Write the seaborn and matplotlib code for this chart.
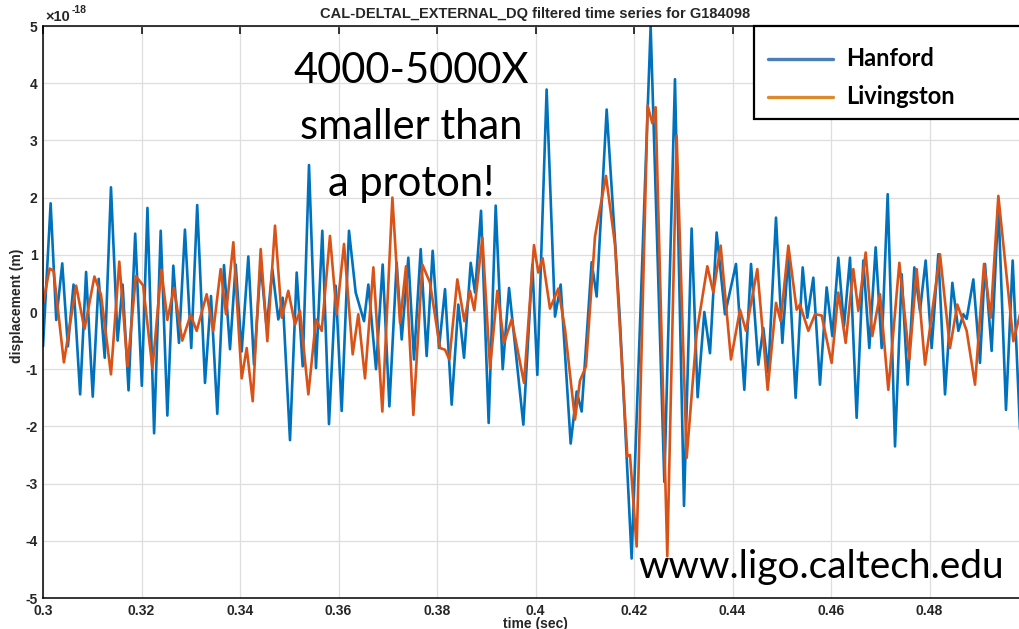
import matplotlib
matplotlib.use("Agg")
import matplotlib.pyplot as plt
import pandas as pd
import seaborn as sns
from matplotlib.lines import Line2D
from matplotlib.patches import Rectangle

# Filtered strain-channel displacement, in units of 1e-18 m (peaks and troughs of each trace)
hanford_time = [
    0.30000, 0.30155, 0.30269, 0.30391, 0.30505, 0.30620, 0.30754, 0.30875, 0.31010, 0.31131,
    0.31253, 0.31380, 0.31515, 0.31616, 0.31737, 0.31872, 0.32007, 0.32121, 0.32256, 0.32390,
    0.32525, 0.32646, 0.32761, 0.32882, 0.33010, 0.33131, 0.33289, 0.33411, 0.33539, 0.33675,
    0.33797, 0.33912, 0.34034, 0.34169, 0.34284, 0.34420, 0.34542, 0.34656, 0.34778, 0.34866,
    0.35015, 0.35151, 0.35273, 0.35401, 0.35543, 0.35671, 0.35807, 0.35943, 0.36065, 0.36213,
    0.36349, 0.36518, 0.36606, 0.36762, 0.36897, 0.37033, 0.37181, 0.37283, 0.37418, 0.37533,
    0.37669, 0.37790, 0.37912, 0.38041, 0.38163, 0.38298, 0.38433, 0.38549, 0.38684, 0.38772,
    0.38894, 0.39049, 0.39192, 0.39334, 0.39463, 0.39753, 0.39936, 0.40037, 0.40226, 0.40396,
    0.40511, 0.40714, 0.40836, 0.40937, 0.41140, 0.41242, 0.41445, 0.41614, 0.41715, 0.41952,
    0.42338, 0.42616, 0.42832, 0.43015, 0.43170, 0.43292, 0.43428, 0.43543, 0.43678, 0.43848,
    0.44071, 0.44240, 0.44376, 0.44524, 0.44626, 0.44727, 0.44883, 0.45012, 0.45134, 0.45282,
    0.45425, 0.45519, 0.45641, 0.45776, 0.45912, 0.46027, 0.46149, 0.46264, 0.46386, 0.46521,
    0.46656, 0.46778, 0.46907, 0.47029, 0.47151, 0.47300, 0.47435, 0.47557, 0.47692, 0.47807,
    0.47922, 0.48044, 0.48179, 0.48315, 0.48464, 0.48586, 0.48687, 0.48755, 0.48890, 0.49025,
    0.49127, 0.49262, 0.49398, 0.49553, 0.49689, 0.49838,
]
hanford_disp = [
    -0.60, 1.90, -0.14, 0.85, -0.60, 0.48, -1.44, 0.70, -1.48, 0.58,
    -0.80, 2.18, -0.50, 0.48, -1.37, 1.37, -1.29, 1.82, -2.12, 1.42,
    -1.81, 0.81, -0.54, 1.44, -0.63, 1.87, -1.24, 0.28, -1.78, 0.82,
    -0.65, 0.83, -0.69, 0.97, -0.92, 0.84, -0.28, 0.75, -0.13, 0.25,
    -2.24, 0.69, -0.95, 2.57, -0.98, 1.42, -1.96, 0.46, -1.73, 1.42,
    0.34, -0.16, 0.48, -1.00, 0.83, -1.65, 0.86, -0.48, 0.95, -0.83,
    1.10, -0.77, 1.07, -0.63, 0.40, -1.62, 0.13, -0.80, 0.86, 0.34,
    1.77, -1.94, 1.86, -1.00, 0.42, -1.97, 0.83, -1.10, 3.89, -0.08,
    0.48, -2.30, -1.39, -1.74, 0.87, 0.27, 3.54, 1.25, -0.15, -4.31,
    5.00, -2.97, 4.07, -3.39, 1.46, -1.49, 0.00, -0.72, 1.39, -0.04,
    0.84, -1.36, 0.84, -0.92, -0.28, -1.06, 1.65, -0.54, 1.00, -1.50,
    0.78, -0.10, 0.60, -1.27, 0.43, -0.42, 0.95, -0.25, 0.95, -1.85,
    0.90, -0.63, 1.13, -0.63, 2.06, -2.35, 0.66, -1.27, 0.78, 0.02,
    0.90, -0.63, 1.01, -1.44, 0.51, -0.33, -0.04, -0.12, 0.57, -0.89,
    0.84, -0.68, 1.88, -1.71, 0.90, -2.06,
]

livingston_time = [
    0.30000, 0.30135, 0.30215, 0.30424, 0.30673, 0.30842, 0.31044, 0.31178, 0.31380, 0.31549,
    0.31717, 0.31886, 0.32034, 0.32222, 0.32404, 0.32525, 0.32660, 0.32828, 0.32997, 0.33120,
    0.33323, 0.33458, 0.33607, 0.33716, 0.33865, 0.34034, 0.34136, 0.34258, 0.34420, 0.34555,
    0.34711, 0.34847, 0.34981, 0.35117, 0.35218, 0.35388, 0.35543, 0.35659, 0.35827, 0.35963,
    0.36112, 0.36288, 0.36402, 0.36538, 0.36708, 0.36890, 0.37094, 0.37249, 0.37371, 0.37520,
    0.37703, 0.37858, 0.38061, 0.38163, 0.38251, 0.38413, 0.38555, 0.38670, 0.38758, 0.38921,
    0.39077, 0.39225, 0.39361, 0.39516, 0.39767, 0.39969, 0.40057, 0.40145, 0.40294, 0.40463,
    0.40599, 0.40802, 0.40903, 0.41025, 0.41208, 0.41431, 0.41614, 0.41865, 0.41918, 0.42054,
    0.42277, 0.42372, 0.42439, 0.42676, 0.42866, 0.43069, 0.43272, 0.43489, 0.43611, 0.43760,
    0.43969, 0.44152, 0.44274, 0.44504, 0.44714, 0.44883, 0.44978, 0.45134, 0.45303, 0.45370,
    0.45540, 0.45675, 0.45810, 0.46013, 0.46149, 0.46298, 0.46453, 0.46555, 0.46704, 0.46839,
    0.46995, 0.47164, 0.47388, 0.47591, 0.47740, 0.47909, 0.48213, 0.48416, 0.48565, 0.48755,
    0.48924, 0.49107, 0.49242, 0.49398, 0.49702, 0.49838,
]
livingston_disp = [
    0.15, 0.76, 0.72, -0.88, 0.46, -0.30, 0.62, 0.30, -1.09, 0.88,
    -0.95, 0.63, 0.46, -0.99, 0.74, -0.14, 0.42, -0.50, -0.05, -0.33,
    0.31, -0.33, 0.75, -0.04, 1.22, -1.16, -0.63, -1.56, 1.10, -0.51,
    1.51, -0.10, 0.37, -0.22, 0.02, -1.44, -0.13, -0.33, 1.33, -0.04,
    1.19, -0.74, -0.04, -1.16, 0.78, -1.74, 2.00, -0.19, 0.80, -1.80,
    0.83, 0.51, -0.63, -0.66, -0.83, 0.57, -0.16, 0.37, 0.03, 1.30,
    -0.98, 0.37, -0.54, -0.13, -1.24, 1.17, 0.69, 0.94, 0.06, 0.41,
    -0.30, -1.88, -1.20, -0.95, 1.32, 2.38, 1.18, -2.52, -2.50, -4.10,
    3.61, 3.30, 3.58, -4.27, 3.08, -2.55, -0.37, 0.80, 0.34, 1.16,
    -0.83, 0.04, -0.33, 0.75, -1.36, 0.16, -0.16, 1.16, 0.04, 0.13,
    -0.33, -0.04, -0.06, -0.89, 0.34, -0.54, 0.75, 0.02, 1.04, -0.42,
    0.31, -1.36, 0.86, -0.83, 0.75, -0.92, 1.01, -0.63, 0.13, -0.33,
    -1.27, 0.84, -0.10, 2.03, -0.51, -0.04,
]

detectors = ["Hanford", "Livingston"]
x_ticks = [0.30, 0.32, 0.34, 0.36, 0.38, 0.40, 0.42, 0.44, 0.46, 0.48, 0.50]
x_tick_labels = ["0.3", "0.32", "0.34", "0.36", "0.38", "0.4", "0.42", "0.44", "0.46", "0.48", "0.5"]
y_ticks = [-5, -4, -3, -2, -1, 0, 1, 2, 3, 4, 5]
y_tick_labels = ["-5", "-4", "-3", "-2", "-1", "0", "1", "2", "3", "4", "5"]

line_colors = {"Hanford": "#0072BD", "Livingston": "#D95319"}
legend_colors = {"Hanford": "#4a7dbb", "Livingston": "#db8a2e"}

df = pd.concat([
    pd.DataFrame({"time": hanford_time, "disp": hanford_disp, "detector": "Hanford"}),
    pd.DataFrame({"time": livingston_time, "disp": livingston_disp, "detector": "Livingston"}),
], ignore_index=True)

sns.set_style("white")
plt.rcParams["font.family"] = ["Liberation Sans", "DejaVu Sans"]

W, H = 1020, 629
fig = plt.figure(figsize=(W / 100, H / 100), dpi=100)
fig.patch.set_facecolor("white")


def fig_xy(px, py):
    return px / W, 1 - py / H


ax = fig.add_axes([43 / W, 1 - 598 / H, 985 / W, 572 / H])
sns.lineplot(data=df, x="time", y="disp", hue="detector", hue_order=detectors,
             palette=line_colors, estimator=None, sort=False, legend=False,
             linewidth=1.9, ax=ax)

ax.set_xlim(0.3, 0.5)
ax.set_ylim(-5, 5)
ax.set_xticks(x_ticks)
ax.set_xticklabels(x_tick_labels)
ax.set_yticks(y_ticks)
ax.set_yticklabels(y_tick_labels)
ax.set_axisbelow(True)
ax.grid(True, color="#dedede", linewidth=0.9)
ax.tick_params(direction="in", length=6, width=1.1, top=True, right=True,
               labelsize=10, colors="black")
ax.tick_params(axis="x", pad=4.5)
ax.tick_params(axis="y", pad=4)
for lab in ax.get_xticklabels() + ax.get_yticklabels():
    lab.set_fontweight("bold")
    lab.set_color("#262626")
for sp in ax.spines.values():
    sp.set_visible(True)
    sp.set_color("black")
    sp.set_linewidth(1.1)

ax.set_xlabel("time (sec)", fontsize=10, fontweight="bold", color="#262626")
ax.set_ylabel("displacement (m)", fontsize=10, fontweight="bold", color="#262626")
ax.xaxis.label.set_va("center")
ax.xaxis.set_label_coords((535 - 43) / 985, (598 - 624) / 572)
ax.yaxis.label.set_va("center")
ax.yaxis.set_label_coords((17 - 43) / 985, 0.51)

ax.set_title("CAL-DELTAL_EXTERNAL_DQ filtered time series for G184098",
             fontsize=10.5, fontweight="bold", color="#262626", pad=6)

# exponent of the displacement axis
fig.text(*fig_xy(45, 21), "×10", fontsize=10.5, fontweight="bold", color="#262626", va="baseline")
fig.text(*fig_xy(72, 13), "-18", fontsize=7.5, fontweight="bold", color="#262626", va="baseline")

# annotation text
note_font = ["Lato", "DejaVu Sans"]
for txt, base in [("4000-5000X", 83), ("smaller than", 139), ("a proton!", 196)]:
    fig.text(*fig_xy(411, base), txt, fontsize=30, family=note_font, ha="center",
             va="baseline", color="black", zorder=10)
fig.text(*fig_xy(638, 578), "www.ligo.caltech.edu", fontsize=28, family=note_font,
         ha="left", va="baseline", color="black", zorder=10)

# legend box
x0, y0 = fig_xy(754, 119)
x1, y1 = fig_xy(1040, 26)
fig.patches.append(Rectangle((x0, y0), x1 - x0, y1 - y0, transform=fig.transFigure,
                             facecolor="white", edgecolor="black", linewidth=1.6,
                             zorder=20, clip_on=False))
for name, py in [("Hanford", 59), ("Livingston", 97)]:
    lx0, ly = fig_xy(768, py)
    lx1, _ = fig_xy(833, py)
    fig.lines.append(Line2D([lx0, lx1], [ly, ly], transform=fig.transFigure,
                            color=legend_colors[name], linewidth=2.4, zorder=21))
    fig.text(*fig_xy(846, py), name, fontsize=17, fontweight="bold", family=note_font,
             ha="left", va="center", color="black", zorder=22)

fig.savefig("out.png", dpi=100)
